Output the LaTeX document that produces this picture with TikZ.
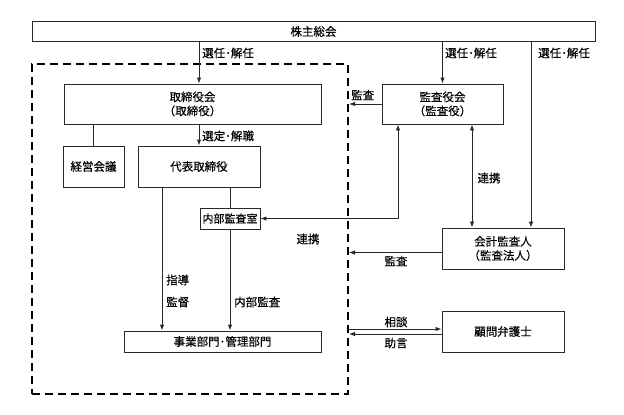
\documentclass[tikz,border=0pt]{standalone}
\usepackage{fontspec}
\setmainfont[FakeBold=0.35]{Noto Sans CJK JP}
\usetikzlibrary{arrows.meta,calc,positioning}
\definecolor{lineGray}{RGB}{40, 40, 40}

\begin{document}
\begin{tikzpicture}[x=1pt, y=-1pt, font=\fontsize{11.5}{14}\selectfont]
            % Styles
            \tikzstyle{unit} = [rectangle, draw=lineGray, line width=0.9pt, inner sep=0pt, align=center]
            \tikzstyle{arrow} = [-{Latex[length=6pt,width=4.5pt]}, line width=0.9pt, lineGray]
            \tikzstyle{twoway} = [{Latex[length=6pt,width=4.5pt]}-{Latex[length=6pt,width=4.5pt]}, line width=0.9pt, lineGray]
            \tikzstyle{link} = [line width=0.9pt, lineGray]
            \tikzstyle{tag} = [inner sep=0pt, anchor=west]

            \useasboundingbox (0,0) rectangle (624,415);

            % Nodes
            \node[unit, minimum width=563, minimum height=20] (meeting) at (313.5, 31.5) {株主総会};
            \node[draw, line width=2pt, dash pattern=on 8pt off 5pt, minimum width=316, minimum height=330, inner sep=0pt] (company) at (190, 229) {};
            \node[unit, minimum width=257, minimum height=40] (board) at (192.5, 104) {取締役会\\（取締役）};
            \node[unit, minimum width=121, minimum height=40] (auditors) at (442.5, 104) {監査役会\\（監査役）};
            \node[unit, minimum width=61, minimum height=41] (mgmt) at (93.5, 166.5) {経営会議};
            \node[unit, minimum width=122, minimum height=41] (ceo) at (199, 166.5) {代表取締役};
            \node[unit, minimum width=60, minimum height=21] (internal) at (230, 218.5) {\fontsize{11}{13}\selectfont 内部監査室};
            \node[unit, minimum width=197, minimum height=21] (divisions) at (222.5, 341.5) {事業部門･管理部門};
            \node[unit, minimum width=122, minimum height=41] (accountant) at (503, 248.5) {会計監査人\\（監査法人）};
            \node[unit, minimum width=122, minimum height=41] (lawyer) at (503, 331.5) {顧問弁護士};

            % Labels
            \node[tag] at (202, 53) {選任･解任};
            \node[tag] at (445, 53) {選任･解任};
            \node[tag] at (538, 53) {選任･解任};
            \node[tag] at (351, 95) {監査};
            \node[tag] at (202, 136) {選定･解職};
            \node at (489, 178) {連携};
            \node at (308, 239) {連携};
            \node at (396, 261) {監査};
            \node[tag] at (166, 280) {指導};
            \node[tag] at (166, 302) {監督};
            \node[tag] at (234, 302) {内部監査};
            \node at (396, 322) {相談};
            \node at (396, 343) {助言};

            % Arrows
            \draw[arrow] (meeting.south -| ceo) -- (board.north -| ceo);
            \draw[arrow] (meeting.south -| auditors) -- (auditors.north);
            \draw[arrow] ($(meeting.south -| accountant)+(28,0)$) -- ($(accountant.north)+(28,0)$);
            \draw[arrow] (board.south -| ceo) -- (ceo.north);
            \draw[link] (board.south -| mgmt) -- (mgmt.north);
            \draw[arrow] (auditors.west) -- (company.east |- auditors.west);
            \draw[twoway] ($(auditors.south)+(-44.5,0)$) |- (internal.east);
            \draw[twoway] ($(auditors.south)+(29.5,0)$) -- ($(accountant.north)+(-31,0)$);
            \draw[arrow] ($(accountant.west)+(0,4)$) -- (company.east |- {$(accountant.west)+(0,4)$});
            \draw[link] (ceo.south -| internal) -- (internal.north);
            \draw[arrow] ($(ceo.south)+(-37,0)$) -- ($(divisions.north -| ceo)+(-37,0)$);
            \draw[arrow] (internal.south) -- (divisions.north -| internal);
            \draw[arrow] ($(company.east |- lawyer.west)+(0,-2.5)$) -- ($(lawyer.west)+(0,-2.5)$);
            \draw[arrow] ($(lawyer.west)+(0,2.5)$) -- ($(company.east |- lawyer.west)+(0,2.5)$);
        \end{tikzpicture}
\end{document}
